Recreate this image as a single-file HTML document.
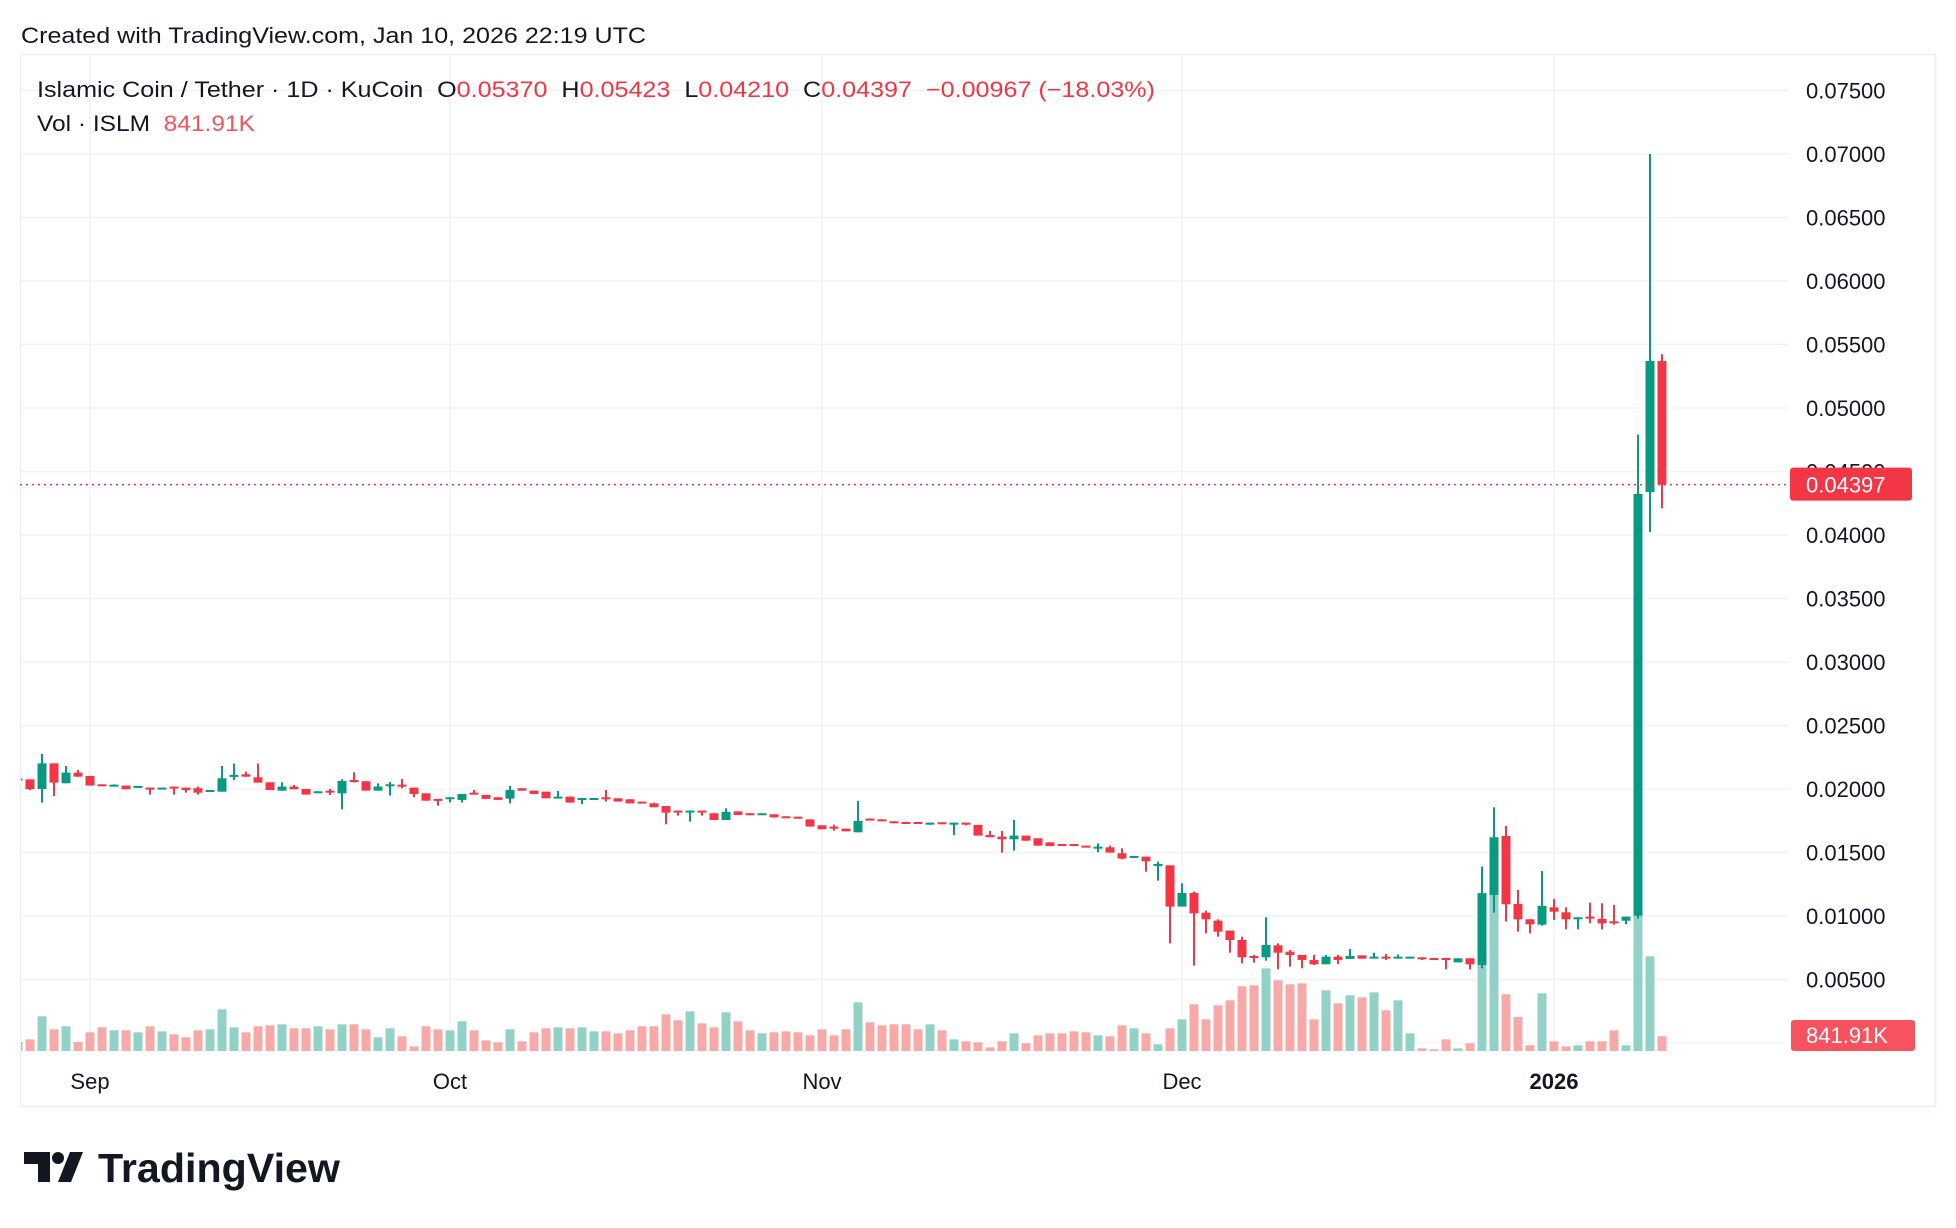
<!DOCTYPE html>
<html><head><meta charset="utf-8">
<style>
html,body{margin:0;padding:0;background:#fff;}
svg{display:block;font-family:"Liberation Sans",sans-serif;}
.pre{white-space:pre;}
</style></head>
<body>
<svg id="chart" width="1956" height="1228" viewBox="0 0 1956 1228" xmlns="http://www.w3.org/2000/svg">
  <defs><clipPath id="plotclip"><rect x="21" y="55" width="1767" height="1000"/></clipPath></defs>
  <rect x="0" y="0" width="1956" height="1228" fill="#ffffff"/>
  <text x="21" y="43" font-size="22" fill="#131722" textLength="625" lengthAdjust="spacingAndGlyphs">Created with TradingView.com, Jan 10, 2026 22:19 UTC</text>
  <rect x="20.5" y="54.5" width="1915" height="1052" fill="none" stroke="#eceff2" stroke-width="1.5"/>
  <line x1="1935" y1="54" x2="1935" y2="1106" stroke="#eceff2"/>
  <g id="grid"></g>
  <g id="yaxis"></g>
  <g id="xaxis"></g>
  <g id="vols" clip-path="url(#plotclip)"></g>
  <g id="candles" clip-path="url(#plotclip)"></g>
  <g id="lastline"></g>
  <text class="pre" x="37" y="97" font-size="22" fill="#131722" textLength="1118" lengthAdjust="spacingAndGlyphs">Islamic Coin / Tether · 1D · KuCoin  O<tspan fill="#f23645">0.05370</tspan>  H<tspan fill="#f23645">0.05423</tspan>  L<tspan fill="#f23645">0.04210</tspan>  C<tspan fill="#f23645">0.04397</tspan>  <tspan fill="#f23645">−0.00967 (−18.03%)</tspan></text>
  <text class="pre" x="37" y="131" font-size="22" fill="#131722" textLength="218" lengthAdjust="spacingAndGlyphs">Vol · ISLM  <tspan fill="#f7525f">841.91K</tspan></text>
  <g>
    <path d="M24 1152 H50 V1182 H38 V1164 H24 Z" fill="#131722"/>
    <circle cx="58" cy="1158" r="6" fill="#131722"/>
    <path d="M70 1152 H83 L71 1182 H58 Z" fill="#131722"/>
    <text x="98" y="1182" font-size="41" font-weight="bold" fill="#131722" textLength="242" lengthAdjust="spacingAndGlyphs">TradingView</text>
  </g>
</svg>
<script>
const priceTicks = [0.005,0.01,0.015,0.02,0.025,0.03,0.035,0.04,0.045,0.05,0.055,0.06,0.065,0.07,0.075];
const tickLabels = ["0.00500","0.01000","0.01500","0.02000","0.02500","0.03000","0.03500","0.04000","0.04500","0.05000","0.05500","0.06000","0.06500","0.07000","0.07500"];
const monthLabels = ["Sep","Oct","Nov","Dec","2026"];
const monthIndex = [6,36,67,97,128];
const opens = [0.02076,0.02076,0.02000,0.02202,0.02045,0.02129,0.02103,0.02037,0.02029,0.02027,0.02011,0.02011,0.01998,0.02019,0.02011,0.02006,0.01977,0.01979,0.02097,0.02116,0.02092,0.02053,0.01987,0.02019,0.02000,0.01971,0.01987,0.01966,0.02071,0.02061,0.01987,0.02029,0.02034,0.02011,0.01966,0.01922,0.01924,0.01914,0.01971,0.01953,0.01935,0.01924,0.02006,0.01987,0.01979,0.01932,0.01940,0.01922,0.01924,0.01935,0.01927,0.01919,0.01901,0.01887,0.01866,0.01830,0.01822,0.01830,0.01809,0.01756,0.01824,0.01809,0.01801,0.01801,0.01785,0.01782,0.01761,0.01714,0.01704,0.01688,0.01659,0.01767,0.01761,0.01746,0.01740,0.01740,0.01730,0.01738,0.01730,0.01735,0.01717,0.01638,0.01625,0.01604,0.01633,0.01612,0.01580,0.01567,0.01567,0.01554,0.01538,0.01541,0.01494,0.01462,0.01467,0.01399,0.01399,0.01074,0.01181,0.01026,0.00963,0.00885,0.00811,0.00685,0.00675,0.00769,0.00719,0.00693,0.00654,0.00620,0.00680,0.00662,0.00690,0.00667,0.00680,0.00672,0.00672,0.00675,0.00669,0.00669,0.00635,0.00667,0.00614,0.01166,0.01630,0.01095,0.00974,0.00932,0.01068,0.01029,0.00974,0.00995,0.00977,0.00958,0.00963,0.01003,0.04339,0.05370];
const highs = [0.02082,0.02076,0.02276,0.02202,0.02181,0.02150,0.02103,0.02037,0.02037,0.02027,0.02024,0.02011,0.02011,0.02019,0.02011,0.02019,0.01992,0.02181,0.02200,0.02137,0.02200,0.02053,0.02053,0.02032,0.02000,0.01982,0.02000,0.02076,0.02132,0.02061,0.02045,0.02055,0.02079,0.02011,0.01966,0.01922,0.01935,0.01961,0.01992,0.01953,0.01935,0.02024,0.02006,0.01987,0.01979,0.01985,0.01940,0.01929,0.01929,0.01992,0.01927,0.01919,0.01901,0.01893,0.01866,0.01830,0.01830,0.01830,0.01809,0.01848,0.01824,0.01809,0.01809,0.01801,0.01785,0.01782,0.01761,0.01714,0.01719,0.01688,0.01906,0.01767,0.01761,0.01746,0.01740,0.01740,0.01735,0.01738,0.01735,0.01735,0.01717,0.01670,0.01670,0.01756,0.01633,0.01612,0.01580,0.01567,0.01567,0.01554,0.01572,0.01554,0.01533,0.01473,0.01467,0.01428,0.01399,0.01257,0.01192,0.01042,0.00974,0.00885,0.00837,0.00693,0.00990,0.00785,0.00732,0.00693,0.00693,0.00693,0.00693,0.00740,0.00690,0.00711,0.00701,0.00696,0.00680,0.00675,0.00669,0.00669,0.00667,0.00667,0.01389,0.01856,0.01709,0.01205,0.00974,0.01355,0.01134,0.01068,0.00990,0.01105,0.01100,0.01087,0.00995,0.04790,0.07000,0.05423];
const lows = [0.02076,0.01992,0.01893,0.01945,0.02045,0.02097,0.02027,0.02029,0.02029,0.01998,0.02011,0.01956,0.01998,0.01956,0.01971,0.01956,0.01977,0.01979,0.02071,0.02097,0.02050,0.01992,0.01987,0.01998,0.01956,0.01971,0.01953,0.01840,0.02050,0.01987,0.01987,0.01948,0.02006,0.01935,0.01908,0.01869,0.01895,0.01895,0.01958,0.01922,0.01914,0.01887,0.01987,0.01961,0.01927,0.01932,0.01893,0.01880,0.01924,0.01901,0.01901,0.01887,0.01890,0.01856,0.01722,0.01790,0.01743,0.01790,0.01756,0.01756,0.01796,0.01798,0.01801,0.01777,0.01777,0.01767,0.01704,0.01683,0.01672,0.01667,0.01659,0.01756,0.01751,0.01730,0.01730,0.01730,0.01719,0.01730,0.01638,0.01714,0.01633,0.01620,0.01499,0.01515,0.01593,0.01554,0.01551,0.01551,0.01551,0.01541,0.01502,0.01499,0.01446,0.01462,0.01349,0.01278,0.00785,0.01074,0.00609,0.00864,0.00837,0.00711,0.00627,0.00633,0.00648,0.00580,0.00601,0.00588,0.00614,0.00620,0.00622,0.00662,0.00664,0.00667,0.00654,0.00672,0.00672,0.00654,0.00664,0.00580,0.00635,0.00580,0.00588,0.01026,0.00956,0.00877,0.00864,0.00924,0.00969,0.00895,0.00895,0.00942,0.00895,0.00932,0.00937,0.00980,0.04024,0.04210];
const closes = [0.02082,0.02000,0.02202,0.02050,0.02129,0.02097,0.02027,0.02029,0.02034,0.01998,0.02024,0.01998,0.02011,0.02008,0.01992,0.01971,0.01992,0.02084,0.02111,0.02097,0.02050,0.01992,0.02019,0.01998,0.01956,0.01982,0.01971,0.02063,0.02058,0.01987,0.02019,0.02037,0.02021,0.01961,0.01908,0.01914,0.01935,0.01961,0.01958,0.01922,0.01914,0.01992,0.01987,0.01961,0.01927,0.01940,0.01893,0.01929,0.01929,0.01919,0.01901,0.01887,0.01890,0.01856,0.01814,0.01822,0.01830,0.01822,0.01756,0.01819,0.01796,0.01798,0.01809,0.01777,0.01777,0.01767,0.01704,0.01683,0.01688,0.01667,0.01748,0.01756,0.01751,0.01730,0.01730,0.01730,0.01735,0.01730,0.01735,0.01730,0.01633,0.01620,0.01604,0.01633,0.01593,0.01554,0.01551,0.01551,0.01551,0.01541,0.01546,0.01499,0.01452,0.01473,0.01431,0.01410,0.01074,0.01181,0.01021,0.00974,0.00877,0.00811,0.00675,0.00672,0.00772,0.00711,0.00693,0.00654,0.00620,0.00680,0.00654,0.00685,0.00664,0.00680,0.00669,0.00680,0.00680,0.00664,0.00664,0.00664,0.00667,0.00620,0.01179,0.01620,0.01092,0.00974,0.00935,0.01079,0.01034,0.00974,0.00990,0.00982,0.00942,0.00948,0.00995,0.04323,0.05370,0.04397];
const volumesK = [513,665,1976,1235,1406,513,1064,1349,1178,1178,1064,1406,1121,950,779,1178,1235,2375,1349,1064,1406,1463,1520,1292,1292,1406,1235,1520,1520,1235,779,1292,836,266,1406,1235,1178,1691,1178,608,494,1235,551,1064,1292,1349,1292,1349,1121,1121,1007,1178,1406,1406,2090,1748,2261,1577,1349,2204,1691,1178,1007,1064,1121,1064,893,1235,893,1235,2774,1634,1463,1520,1520,1235,1520,1178,665,551,494,209,551,1007,437,893,1007,1007,1121,1064,893,836,1463,1292,1007,380,1292,1805,2660,1805,2603,2888,3686,3743,4712,4028,3800,3857,1805,3458,2717,3173,3059,3344,2318,2888,1007,152,95,665,152,437,9006,12000,3230,1938,323,3287,551,266,323,551,551,1178,323,7809,5396,842];
const lastPrice = 0.04397;

const NS = "http://www.w3.org/2000/svg";
const PLOT_L = 20, PLOT_R = 1788, VOL_BASE = 1051;
function yScale(p){ return 1043 - p * 12700; }
function xScale(i){ return 18 + i * 12; }
function vScale(v){ return v / 57; }
function mk(tag, attrs, parent){
  const el = document.createElementNS(NS, tag);
  for (const k in attrs) el.setAttribute(k, attrs[k]);
  parent.appendChild(el);
  return el;
}
const grid = document.getElementById('grid');
const yaxis = document.getElementById('yaxis');
const xaxis = document.getElementById('xaxis');
[0].concat(priceTicks).forEach(function(p){
  const y = yScale(p);
  const gl = mk('line', {x1:PLOT_L, x2:PLOT_R, y1:y, y2:y, stroke:'#f0f3f5', 'stroke-width':1.5}, grid);
  
  
});
priceTicks.forEach(function(p, k){
  const t = mk('text', {x:1806, y:yScale(p)+8, 'font-size':22, fill:'#131722'}, yaxis);
  
  
  t.textContent = tickLabels[k];
});
monthIndex.forEach(function(idx, k){
  const x = xScale(idx);
  const gl = mk('line', {x1:x, x2:x, y1:55, y2:1051, stroke:'#f0f3f5', 'stroke-width':1.5}, grid);
  
  
  const t = mk('text', {x:x, y:1089, 'font-size':22, fill:'#131722', 'text-anchor':'middle', 'font-weight': monthLabels[k]==='2026' ? 'bold' : 'normal'}, xaxis);
  
  
  t.textContent = monthLabels[k];
});
const vols = document.getElementById('vols');
volumesK.forEach(function(v, i){
  const up = closes[i] >= opens[i];
  const h = vScale(v);
  const r = mk('rect', {x:xScale(i)-4.5, y:VOL_BASE-h, width:9, height:h, fill: up ? '#92d1c6' : '#f7a9a8'}, vols);
  
  
});
const cg = document.getElementById('candles');
opens.forEach(function(o, i){
  const c = closes[i], up = c >= o;
  const col = up ? '#089981' : '#f23645';
  const x = xScale(i);
  const g = mk('g', {}, cg);
  
  
  mk('line', {x1:x, x2:x, y1:yScale(highs[i]), y2:yScale(lows[i]), stroke:col, 'stroke-width':2}, g);
  const top = yScale(Math.max(o, c)), bot = yScale(Math.min(o, c));
  mk('rect', {x:x-4.5, y:top, width:9, height:Math.max(2, bot-top), fill:col}, g);
});
const lg = document.getElementById('lastline');
const ly = yScale(lastPrice);
mk('line', {x1:PLOT_L, x2:1790, y1:ly, y2:ly, stroke:'#f23645', 'stroke-width':1.5, 'stroke-dasharray':'2 4'}, lg);
const lb = mk('rect', {x:1790, y:ly-17, width:122, height:33, rx:3, fill:'#f23645'}, lg);


const lt = mk('text', {x:1806, y:ly+8, 'font-size':22, fill:'#ffffff'}, lg);


lt.textContent = lastPrice.toFixed(5);
const vb = mk('rect', {x:1791, y:1020, width:124, height:31, rx:3, fill:'#f7525f'}, lg);


const vt = mk('text', {x:1806, y:1043, 'font-size':22, fill:'#ffffff'}, lg);


vt.textContent = '841.91K';
</script>
</body></html>
